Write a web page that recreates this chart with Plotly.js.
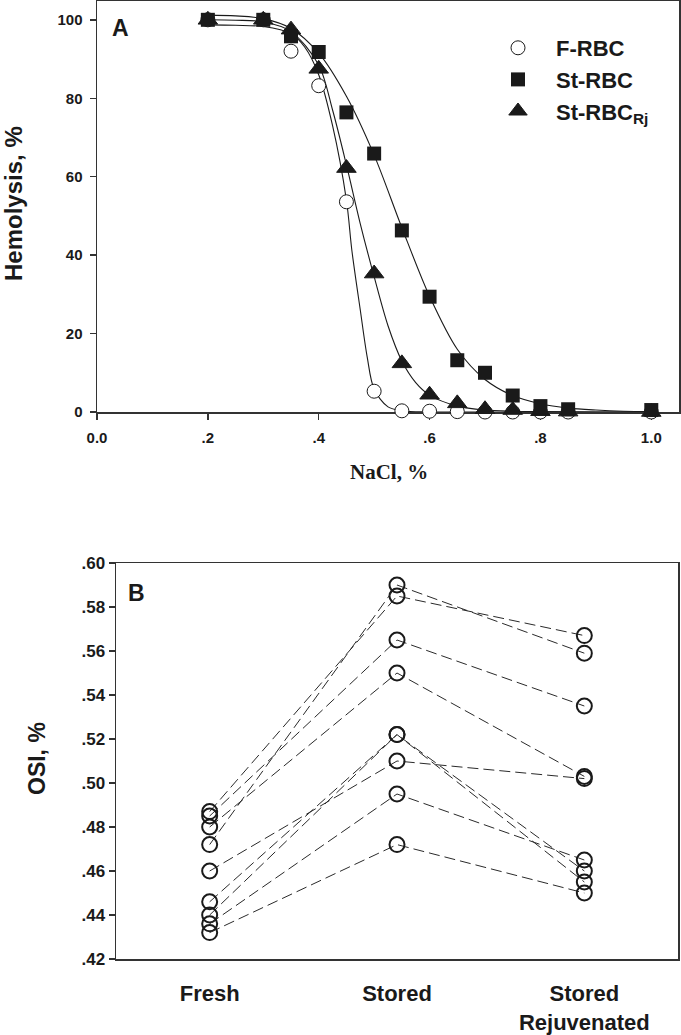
<!DOCTYPE html>
<html>
<head>
<meta charset="utf-8">
<script src="https://cdn.plot.ly/plotly-3.0.1.min.js"></script>
<style>
  html, body { margin: 0; padding: 0; background: #fff; }
  #chart { width: 681px; height: 1035px; }
</style>
</head>
<body>
<div id="chart"></div>
<script>
// ---------- Panel A data (NaCl %, hemolysis %) ----------
const naclX   = [0.2, 0.3, 0.35, 0.4, 0.45, 0.5, 0.55, 0.6, 0.65, 0.7, 0.75, 0.8, 0.85, 1.0];
const fRBC    = [100, 100, 92.0, 83.2, 53.6, 5.3, 0.3, 0.2, 0.1, 0, 0, 0, 0, 0];
const stRBC   = [100, 100, 95.8, 91.8, 76.4, 65.9, 46.3, 29.4, 13.2, 10.0, 4.2, 1.5, 0.7, 0.5];
const stRBCRj = [100, 100, 97.5, 87.5, 62.2, 35.3, 12.4, 4.4, 2.2, 0.7, 0.5, 0.2, 0.1, 0];

// fitted curves
const fitFx = [0.2, 0.25, 0.3, 0.35, 0.375, 0.4, 0.425, 0.45, 0.46, 0.475, 0.4875, 0.5, 0.525, 0.55, 0.6, 0.7, 0.8, 0.9, 1.0];
const fitFy = [98.7, 98.6, 98.3, 96.5, 93.0, 86.0, 73.0, 54.0, 41.0, 26.0, 14.0, 5.8, 1.3, 0.3, 0, 0, 0, 0, 0];
const fitSx = [0.2, 0.25, 0.3, 0.35, 0.4, 0.45, 0.5, 0.55, 0.6, 0.65, 0.7, 0.75, 0.8, 0.85, 0.9, 0.95, 1.0];
const fitSy = [101.2, 101.0, 100.3, 97.8, 91.5, 80.5, 65.5, 47.0, 29.5, 16.0, 8.3, 4.2, 2.1, 1.0, 0.5, 0.2, 0.1];
const fitRx = [0.2, 0.25, 0.3, 0.35, 0.4, 0.425, 0.45, 0.475, 0.5, 0.525, 0.55, 0.575, 0.6, 0.65, 0.7, 0.75, 0.8, 0.9, 1.0];
const fitRy = [100.0, 99.9, 99.5, 97.0, 88.5, 77.0, 63.0, 48.0, 34.5, 22.0, 13.0, 7.5, 4.3, 1.5, 0.5, 0.2, 0.1, 0, 0];

const xTickVals = [0, 0.2, 0.4, 0.6, 0.8, 1.0];
const xTickText = ['0.0', '.2', '.4', '.6', '.8', '1.0'];
const yTickVals = [0, 20, 40, 60, 80, 100];

// ---------- Panel B data (OSI per subject) ----------
const categories = ['Fresh', 'Stored', 'Stored<br>Rejuvenated'];
const freshOSI  = [0.487, 0.485, 0.480, 0.472, 0.460, 0.446, 0.440, 0.436, 0.432];
const storedOSI = [0.585, 0.565, 0.550, 0.590, 0.510, 0.522, 0.522, 0.495, 0.472];
const rejuvOSI  = [0.567, 0.535, 0.503, 0.559, 0.502, 0.460, 0.455, 0.465, 0.450];
const osiTickVals = [0.42, 0.44, 0.46, 0.48, 0.50, 0.52, 0.54, 0.56, 0.58, 0.60];
const osiTickText = ['.42', '.44', '.46', '.48', '.50', '.52', '.54', '.56', '.58', '.60'];

const SANS = 'Arial, "Liberation Sans", Helvetica, sans-serif';
const INK = '#1a1a1a';
const AX = '#333333';

const traces = [];
// curves
[[fitFx, fitFy], [fitSx, fitSy], [fitRx, fitRy]].forEach(function (c) {
  traces.push({
    x: c[0], y: c[1], xaxis: 'x', yaxis: 'y', mode: 'lines', showlegend: false,
    hoverinfo: 'skip',
    line: { color: INK, width: 1.1, shape: 'spline', smoothing: 0.9 }
  });
});
// markers
traces.push({
  x: naclX, y: fRBC, xaxis: 'x', yaxis: 'y', mode: 'markers', name: 'F-RBC',
  cliponaxis: false, legendrank: 1,
  marker: { symbol: 'circle', size: 14, color: '#ffffff', line: { color: INK, width: 1 } }
});
traces.push({
  x: naclX, y: stRBCRj, xaxis: 'x', yaxis: 'y', mode: 'markers', name: 'St-RBC<sub>Rj</sub>',
  cliponaxis: false, legendrank: 3,
  marker: { symbol: 'triangle-up', size: 17, color: INK, line: { color: INK, width: 1 } }
});
traces.push({
  x: naclX, y: stRBC, xaxis: 'x', yaxis: 'y', mode: 'markers', name: 'St-RBC',
  cliponaxis: false, legendrank: 2,
  marker: { symbol: 'square', size: 14, color: INK, line: { color: INK, width: 0 } }
});

// panel B subjects
for (let i = 0; i < freshOSI.length; i++) {
  traces.push({
    x: categories, y: [freshOSI[i], storedOSI[i], rejuvOSI[i]],
    xaxis: 'x2', yaxis: 'y2', mode: 'lines+markers', showlegend: false, cliponaxis: false,
    line: { color: '#2a2a2a', width: 1, dash: '11px,5px' },
    marker: { symbol: 'circle-open', size: 15, color: INK, line: { color: INK, width: 2 } }
  });
}

const W = 681, H = 1035;
const px = v => v / W;
const py = v => 1 - v / H;

const layout = {
  width: W, height: H,
  margin: { l: 0, r: 0, t: 0, b: 0 },
  paper_bgcolor: '#ffffff', plot_bgcolor: '#ffffff',
  font: { family: SANS, color: INK },
  showlegend: true,
  legend: {
    x: px(480), y: py(27), xanchor: 'left', yanchor: 'top',
    bgcolor: 'rgba(0,0,0,0)', borderwidth: 0, itemwidth: 66,
    font: { family: SANS, size: 22, weight: 'bold', color: INK },
    tracegroupgap: 0
  },
  xaxis: {
    domain: [px(97), px(679)], range: [0, 1.05], anchor: 'y',
    tickvals: xTickVals, ticktext: xTickText,
    ticks: 'outside', ticklen: 6, tickwidth: 1.5, tickcolor: AX,
    showline: true, mirror: true, linecolor: AX, linewidth: 1.5,
    showgrid: false, zeroline: false, layer: 'below traces',
    tickfont: { family: SANS, size: 15, weight: 'bold', color: INK },
    ticklabelstandoff: 5
  },
  yaxis: {
    domain: [py(412), py(1)], range: [0, 104.8], anchor: 'x',
    tickvals: yTickVals,
    ticks: 'outside', ticklen: 6, tickwidth: 1.5, tickcolor: AX,
    showline: true, mirror: true, linecolor: AX, linewidth: 1.5,
    showgrid: false, zeroline: false, layer: 'below traces',
    tickfont: { family: SANS, size: 15, weight: 'bold', color: INK },
    ticklabelstandoff: 4
  },
  xaxis2: {
    domain: [px(116), px(678)], range: [-0.5, 2.5], anchor: 'y2', type: 'category',
    categoryorder: 'array', categoryarray: categories,
    ticks: '', showline: true, mirror: true, linecolor: AX, linewidth: 1.5,
    showgrid: false, zeroline: false, layer: 'below traces',
    tickfont: { family: SANS, size: 22, weight: 'bold', color: INK },
    ticklabelstandoff: 14
  },
  yaxis2: {
    domain: [py(959), py(563)], range: [0.42, 0.60], anchor: 'x2',
    tickvals: osiTickVals, ticktext: osiTickText,
    ticks: 'outside', ticklen: 6, tickwidth: 1.5, tickcolor: AX,
    showline: true, mirror: true, linecolor: AX, linewidth: 1.5,
    showgrid: false, zeroline: false, layer: 'below traces',
    tickfont: { family: SANS, size: 17, weight: 'bold', color: INK }
  },
  annotations: [
    { text: 'Hemolysis, %', xref: 'paper', yref: 'paper', x: px(13), y: py(204),
      xanchor: 'center', yanchor: 'middle', textangle: -90, showarrow: false,
      font: { family: SANS, size: 24, weight: 'bold', color: INK } },
    { text: 'NaCl, %', xref: 'paper', yref: 'paper', x: px(389), y: py(472),
      xanchor: 'center', yanchor: 'middle', showarrow: false,
      font: { family: '"Liberation Serif", "Times New Roman", Times, serif', size: 21, weight: 'bold', color: INK } },
    { text: 'A', xref: 'paper', yref: 'paper', x: px(110), y: py(28),
      xanchor: 'left', yanchor: 'middle', showarrow: false,
      font: { family: SANS, size: 23, weight: 'bold', color: INK } },
    { text: 'OSI, %', xref: 'paper', yref: 'paper', x: px(37), y: py(759),
      xanchor: 'center', yanchor: 'middle', textangle: -90, showarrow: false,
      font: { family: SANS, size: 23, weight: 'bold', color: INK } },
    { text: 'B', xref: 'paper', yref: 'paper', x: px(126), y: py(593),
      xanchor: 'left', yanchor: 'middle', showarrow: false,
      font: { family: SANS, size: 23, weight: 'bold', color: INK } }
  ]
};

Plotly.newPlot('chart', traces, layout, { displayModeBar: false, staticPlot: true });
</script>
</body>
</html>
